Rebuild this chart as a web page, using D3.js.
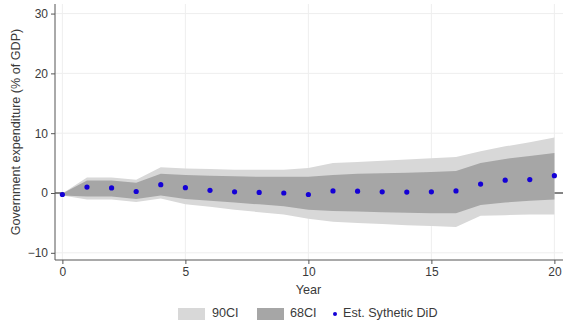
<!DOCTYPE html>
<html>
<head>
<meta charset="utf-8">
<script src="https://cdn.jsdelivr.net/npm/d3@7"></script>
<style>
  body { margin: 0; background: #fff; }
  svg { display: block; font-family: "Liberation Sans", Arial, sans-serif; }
  .tick text { fill: #3a3a3a; font-size: 12px; }
</style>
</head>
<body>
<svg id="chart" width="578" height="327"></svg>
<script>
const years = d3.range(0, 21);
const estimate = [-0.25, 1.0, 0.85, 0.25, 1.4, 0.9, 0.45, 0.2, 0.1, 0.0, -0.25, 0.35, 0.3, 0.2, 0.15, 0.2, 0.35, 1.5, 2.15, 2.25, 2.9];
const ci68Upper = [-0.1, 2.1, 2.1, 1.7, 3.2, 3.0, 2.9, 2.8, 2.7, 2.7, 2.7, 3.0, 3.2, 3.3, 3.4, 3.5, 3.7, 5.0, 5.7, 6.2, 6.7];
const ci68Lower = [-0.4, -0.6, -0.6, -1.0, -0.4, -1.0, -1.3, -1.6, -1.9, -2.2, -2.8, -3.0, -3.1, -3.2, -3.3, -3.4, -3.4, -2.0, -1.6, -1.3, -1.1];
const ci90Upper = [-0.1, 2.6, 2.6, 2.2, 4.3, 4.1, 4.0, 3.9, 3.9, 3.9, 4.2, 5.0, 5.2, 5.4, 5.6, 5.8, 6.0, 7.0, 7.8, 8.5, 9.3];
const ci90Lower = [-0.4, -1.1, -1.1, -1.5, -0.9, -1.9, -2.3, -2.8, -3.2, -3.6, -4.3, -4.8, -5.0, -5.2, -5.4, -5.5, -5.7, -3.8, -3.7, -3.6, -3.6];
const xTicks = [0, 5, 10, 15, 20];
const yTicks = [-10, 0, 10, 20, 30];
const legendItems = ['90CI', '68CI', 'Est. Sythetic DiD'];

const svg = d3.select('#chart');
const plotLeft = 55, plotRight = 563, plotTop = 4, plotBottom = 260;

const x = d3.scaleLinear().domain([-0.3, 20.35]).range([plotLeft, plotRight]);
const y = d3.scaleLinear().domain([-11.2, 31.6]).range([plotBottom, plotTop]);

// grid
svg.append('g')
  .selectAll('line')
  .data(yTicks)
  .enter()
  .append('line')
  .attr('x1', plotLeft).attr('x2', plotRight)
  .attr('y1', (d) => y(d)).attr('y2', (d) => y(d))
  .attr('stroke', '#eeeeee').attr('stroke-width', 1);

svg.append('g')
  .selectAll('line')
  .data(xTicks)
  .enter()
  .append('line')
  .attr('x1', (d) => x(d)).attr('x2', (d) => x(d))
  .attr('y1', plotTop).attr('y2', plotBottom)
  .attr('stroke', '#eeeeee').attr('stroke-width', 1);

// zero reference line
svg.append('line')
  .attr('x1', plotLeft).attr('x2', plotRight)
  .attr('y1', y(0)).attr('y2', y(0))
  .attr('stroke', '#111').attr('stroke-width', 1);

const area = (lo, hi) => d3.area()
  .x((d) => x(d))
  .y0((d, i) => y(lo[i]))
  .y1((d, i) => y(hi[i]));

svg.append('path')
  .datum(years)
  .attr('d', area(ci90Lower, ci90Upper))
  .attr('fill', '#d8d8d8');

svg.append('path')
  .datum(years)
  .attr('d', area(ci68Lower, ci68Upper))
  .attr('fill', '#a6a6a6');

svg.append('g')
  .selectAll('circle')
  .data(years)
  .enter()
  .append('circle')
  .attr('cx', (d) => x(d))
  .attr('cy', (d, i) => y(estimate[i]))
  .attr('r', 2.6)
  .attr('fill', '#1400d6');

// axes
const yAxis = svg.append('g')
  .attr('transform', `translate(${plotLeft},0)`)
  .call(d3.axisLeft(y).tickValues(yTicks).tickSize(4).tickPadding(3));
const xAxis = svg.append('g')
  .attr('transform', `translate(0,${plotBottom})`)
  .call(d3.axisBottom(x).tickValues(xTicks).tickSize(4).tickPadding(3));
[yAxis, xAxis].forEach((g) => {
  g.select('.domain').attr('stroke', '#555');
  g.selectAll('.tick line').attr('stroke', '#555');
});
yAxis.select('.domain').attr('d', `M0,${plotTop}V${plotBottom}`);
xAxis.select('.domain').attr('d', `M${plotLeft},0H${plotRight}`);

svg.append('text')
  .attr('transform', `translate(17,${(plotTop + plotBottom) / 2}) rotate(-90)`)
  .attr('text-anchor', 'middle')
  .attr('dominant-baseline', 'middle')
  .attr('font-size', 12.6)
  .attr('fill', '#3a3a3a')
  .text('Government expenditure (% of GDP)');

svg.append('text')
  .attr('x', x(10))
  .attr('y', 294)
  .attr('text-anchor', 'middle')
  .attr('font-size', 12.6)
  .attr('fill', '#3a3a3a')
  .text('Year');

// legend
const legend = svg.append('g').attr('font-size', 12.6).attr('fill', '#3a3a3a');
const ly = 314;
legend.append('rect').attr('x', 178).attr('y', ly - 6).attr('width', 27).attr('height', 12).attr('fill', '#d8d8d8');
legend.append('text').attr('x', 212).attr('y', ly).attr('dominant-baseline', 'middle').text(legendItems[0]);
legend.append('rect').attr('x', 257).attr('y', ly - 6).attr('width', 27).attr('height', 12).attr('fill', '#a6a6a6');
legend.append('text').attr('x', 290).attr('y', ly).attr('dominant-baseline', 'middle').text(legendItems[1]);
legend.append('circle').attr('cx', 335).attr('cy', ly).attr('r', 2).attr('fill', '#1400d6');
legend.append('text').attr('x', 343).attr('y', ly).attr('dominant-baseline', 'middle').text(legendItems[2]);
</script>
</body>
</html>
